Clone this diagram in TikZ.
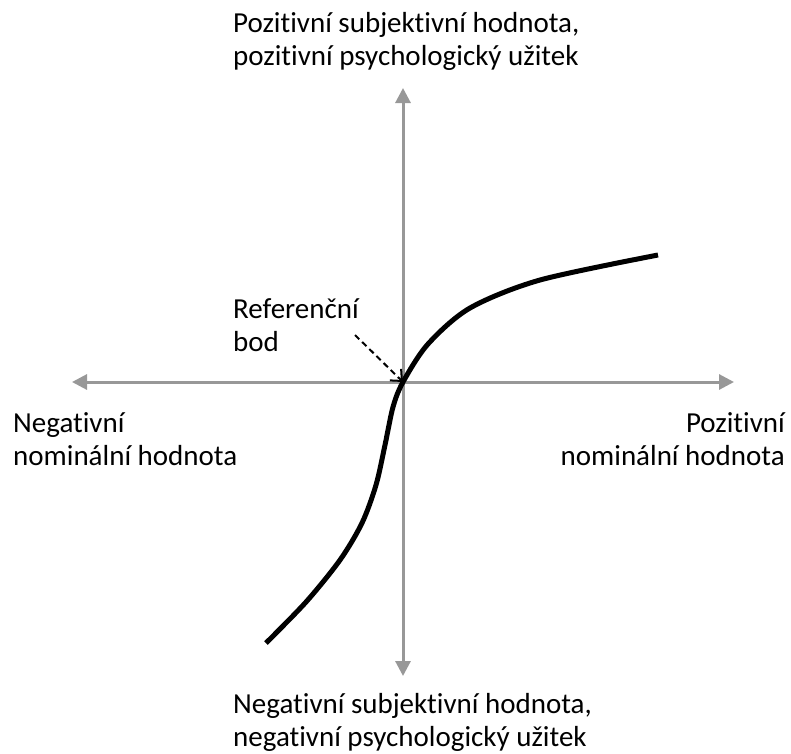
\documentclass[tikz,border=0pt]{standalone}
\usepackage{fontspec}
\setmainfont{Carlito}[Ligatures=NoCommon]
\usetikzlibrary{arrows.meta,positioning}
\definecolor{axisgray}{RGB}{152,152,152}

\begin{document}
\begin{tikzpicture}[x=1pt, y=-1pt]
        % Define block styles
        \tikzstyle{label} = [inner sep=0pt, font=\fontsize{29}{33}\selectfont]
        \tikzstyle{axis} = [draw=axisgray, line width=3pt, -{Triangle[length=15pt,width=15pt]}]
        \tikzstyle{curve} = [draw, line width=5pt]
        \tikzstyle{pointer} = [draw, line width=2pt, dash pattern=on 6pt off 4pt, -{Straight Barb[length=9pt,width=16pt,line width=2pt]}]

        \useasboundingbox (0,0) rectangle (791,753);

        % Axis points
        \coordinate (origin) at (403,382);
        \coordinate (west) at (72,382);
        \coordinate (east) at (734,382);
        \coordinate (north) at (403,88);
        \coordinate (south) at (403,676);

        % Axes
        \path [axis] (origin) -- (west);
        \path [axis] (origin) -- (east);
        \path [axis] (origin) -- (north);
        \path [axis] (origin) -- (south);

        % Value function
        \path [curve] plot [smooth, tension=0.5] coordinates {(266,643) (306,602) (340,560) (362,523) (376,485) (385,445) (393,407) (403,382) (428,344) (470,308) (540,280) (658,255)};

        % Text labels
        \node [label, align=left, anchor=base west] (posutil) at (233,65) {Pozitivní subjektivní hodnota,\\pozitivní psychologický užitek};
        \node [label, align=left, anchor=base west] (negutil) at (233,746) {Negativní subjektivní hodnota,\\negativní psychologický užitek};
        \node [label, align=left, anchor=base west] (negnom) at (13,465) {Negativní\\nominální hodnota};
        \node [label, align=right, anchor=base east] (posnom) at (785,465) {Pozitivní\\nominální hodnota};
        \node [label, align=left, anchor=base west] (refpoint) at (233,351) {Referenční\\bod};

        % Arrows
        \coordinate (refstart) at (355,335);
        \path [pointer] (refstart) -- (origin);

    \end{tikzpicture}
\end{document}
